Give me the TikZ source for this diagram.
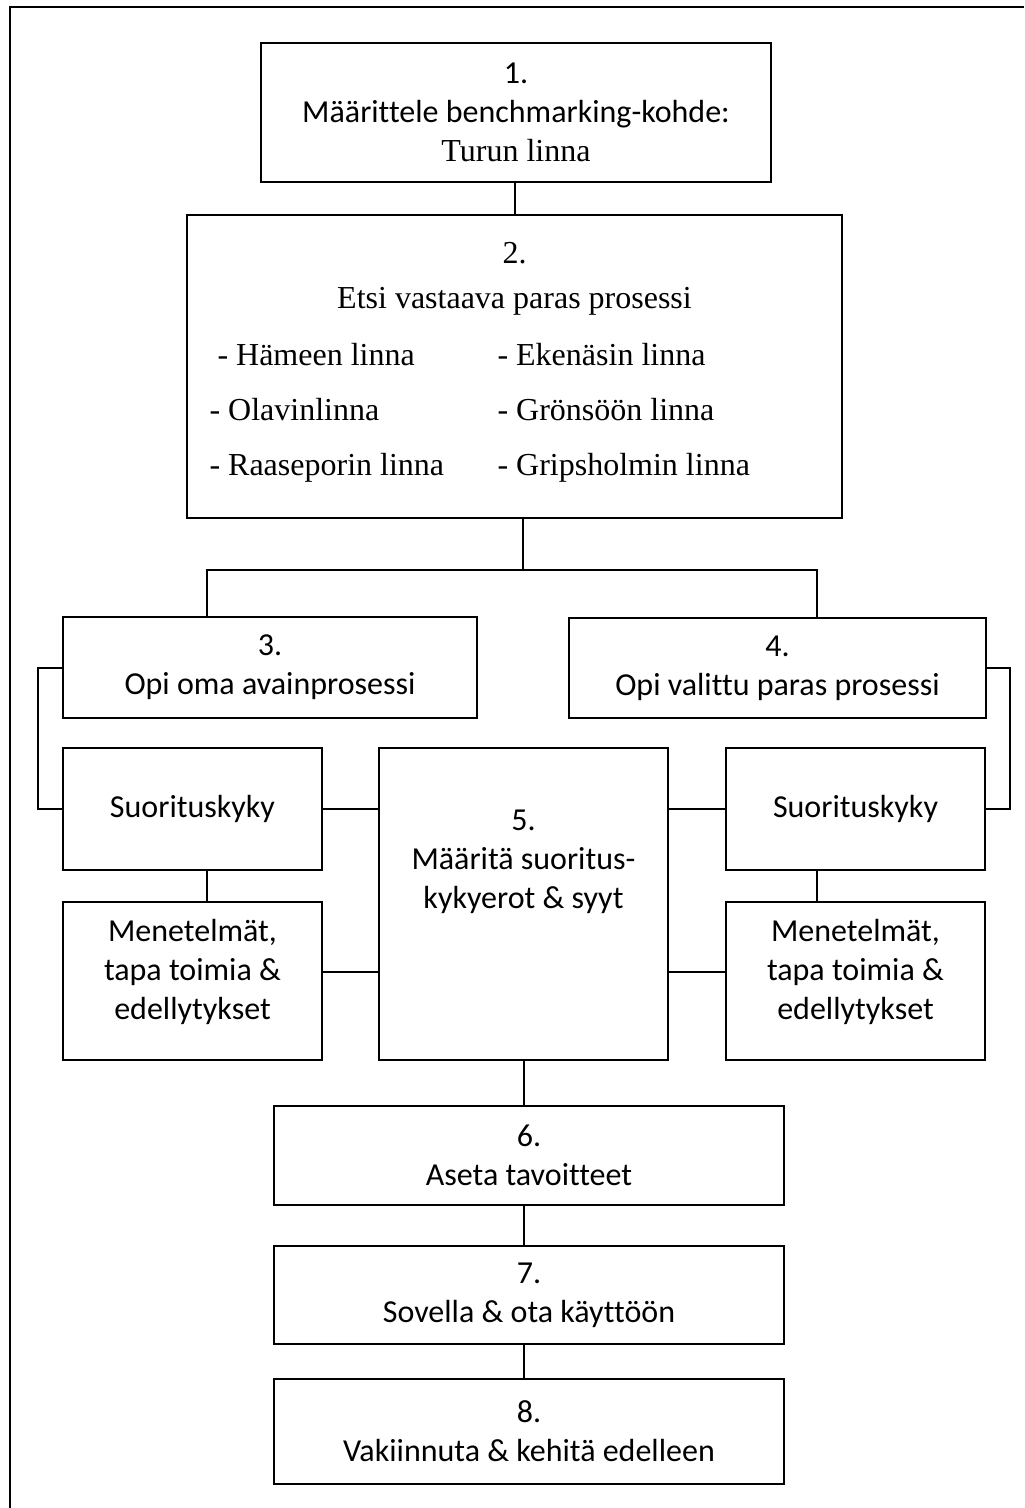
\documentclass[tikz,border=0pt]{standalone}
\usepackage{fontspec}
\setmainfont{Carlito}[Ligatures=NoCommon]
\newfontfamily\timesfont{Liberation Serif}[Ligatures=NoCommon]
\usetikzlibrary{positioning}

\begin{document}
\begin{tikzpicture}[x=0.375pt,y=-0.375pt]
\tikzset{
 box/.style={draw,line width=0.75pt,align=center,inner sep=0pt,font=\fontsize{12}{14.6}\selectfont},
 wide/.style={box,minimum width=191.25pt},
 side/.style={box,minimum width=97.1pt},
 serif/.style={font=\timesfont\fontsize{12}{15}\selectfont,inner sep=0pt,anchor=base west},
 link/.style={line width=0.75pt}
}
\useasboundingbox (0,0) rectangle (1024,1508);
\draw[link] (10,1508) -- (10,7) -- (1024,7);

\node[wide,minimum height=52.1pt] (b1) at (516,112.5) {1.\\Määrittele benchmarking-kohde:\\{\timesfont Turun linna}};
\node[box,minimum width=245.6pt,minimum height=113.6pt] (b2) at (514.5,366.5) {};
\node[serif,anchor=base] (b2num) at (514.5,263) {2.};
\node[serif,anchor=base] (b2txt) at (514.5,308) {Etsi vastaava paras prosessi};
\node[serif] (l1) at (209,365) {\ - Hämeen linna};
\node[serif] (l2) at (209,420) {- Olavinlinna};
\node[serif] (l3) at (209,475) {- Raaseporin linna};
\node[serif] (r1) at (497,365) {- Ekenäsin linna};
\node[serif] (r2) at (497,420) {- Grönsöön linna};
\node[serif] (r3) at (497,475) {- Gripsholmin linna};

\node[box,minimum width=155.25pt,minimum height=37.9pt] (b3) at (270,667.5) {3.\\Opi oma avainprosessi};
\node[box,minimum width=156.4pt,minimum height=37.5pt] (b4) at (777.5,668) {4.\\Opi valittu paras prosessi};

\node[side,minimum height=45.75pt] (s1) at (192.5,809) {Suorituskyky};
\node[side,minimum height=59.25pt,text depth=9pt] (m1) at (192.5,981) {Menetelmät,\\tapa toimia \&\\edellytykset};
\node[box,minimum width=108.4pt,minimum height=117pt,
 label={[align=center,anchor=north,yshift=-20.25pt,font=\fontsize{12}{14.6}\selectfont]north:5.\\Määritä suoritus-\\kykyerot \& syyt}] (b5) at (523.5,904) {};
\node[side,minimum height=45.75pt] (s2) at (855.5,809) {Suorituskyky};
\node[side,minimum height=59.25pt,text depth=9pt] (m2) at (855.5,981) {Menetelmät,\\tapa toimia \&\\edellytykset};

\node[wide,minimum height=37.1pt] (b6) at (529,1155.5) {6.\\Aseta tavoitteet};
\node[wide,minimum height=36.75pt] (b7) at (529,1295) {7.\\Sovella \& ota käyttöön};
\node[wide,minimum height=39.4pt] (b8) at (529,1431.5) {8.\\Vakiinnuta \& kehitä edelleen};

\coordinate (split) at (523,570);
\coordinate (barL) at (207,570);
\coordinate (barR) at (817,570);
\draw[link] (b2.north) -- (b2.north |- b1.south);
\draw[link] (b2.south -| split) -- (split);
\draw[link] (b3.north -| barL) -- (barL) -- (barR) -- (b4.north -| barR);
\draw[link] (b3.west) -- ++(-24,0) |- (s1.west);
\draw[link] (b4.east) -- ++(23,0) |- (s2.east);
\draw[link] (s1.south -| barL) -- (m1.north -| barL);
\draw[link] (s2.south -| barR) -- (m2.north -| barR);
\draw[link] (s1.east) -- (s1.east -| b5.west);
\draw[link] (s2.west) -- (s2.west -| b5.east);
\draw[link] (m1.east |- 0,972) -- (b5.west |- 0,972);
\draw[link] (m2.west |- 0,972) -- (b5.east |- 0,972);
\draw[link] (b5.south) -- (b5.south |- b6.north);
\draw[link] (b6.south -| b5.south) -- (b7.north -| b5.south);
\draw[link] (b7.south -| b5.south) -- (b8.north -| b5.south);
\end{tikzpicture}
\end{document}
